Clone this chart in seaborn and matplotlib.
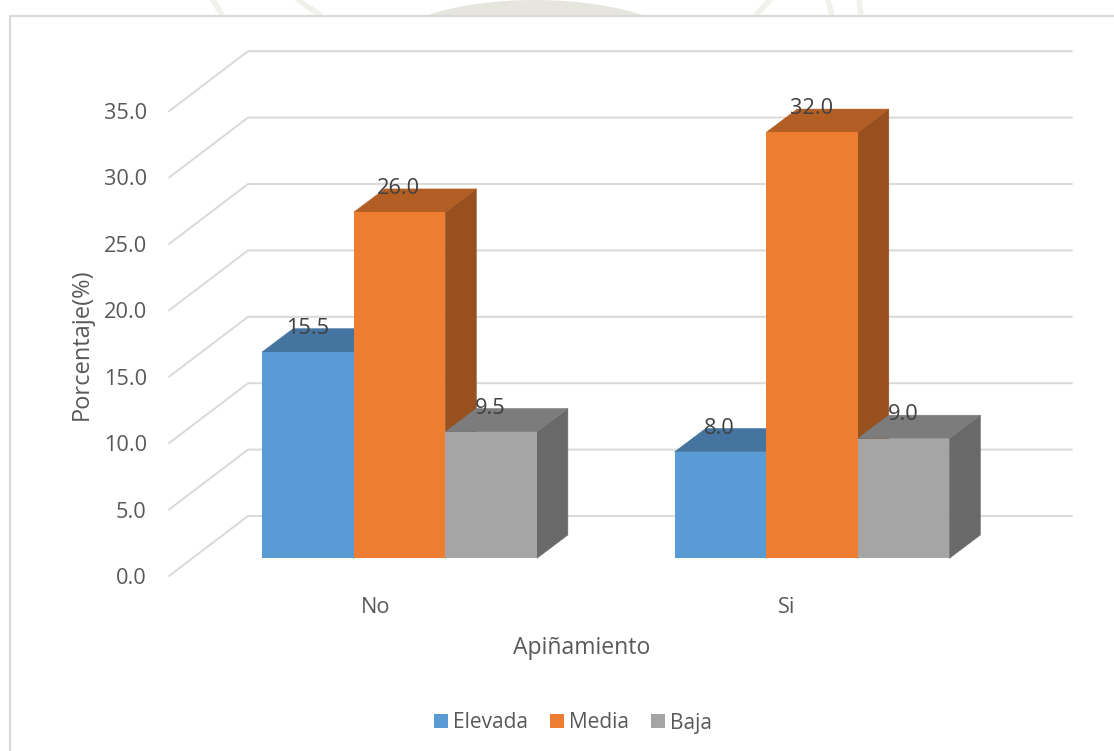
import numpy as np
import pandas as pd
import matplotlib
matplotlib.use("Agg")
import matplotlib.pyplot as plt
from matplotlib.patches import Polygon, Rectangle, Ellipse
from matplotlib.lines import Line2D
from matplotlib.transforms import Affine2D
import seaborn as sns

categories = ["No", "Si"]
series_names = ["Elevada", "Media", "Baja"]
elevada = [15.5, 8.0]
media = [26.0, 32.0]
baja = [9.5, 9.0]
y_ticks = [0, 5, 10, 15, 20, 25, 30, 35]
front_colors = ["#5B9BD5", "#ED7D31", "#A5A5A5"]
top_colors = ["#44749F", "#B25E25", "#7C7C7C"]
side_colors = ["#3A6388", "#97501E", "#696969"]
TEXT = "#595959"
LABEL = "#404040"
GRID = "#D9D9D9"
SEAL = "#E6E6DE"

sns.set_theme(style="white")
plt.rcParams["font.family"] = ["Open Sans", "DejaVu Sans"]

W, H, DPI = 1114, 751, 100
fig = plt.figure(figsize=(W / DPI, H / DPI), dpi=DPI, facecolor="white")
px = Affine2D().scale(1, -1).translate(0, H)  # image pixel coordinates

# faint page watermark showing above the chart
fig.add_artist(Ellipse((535, 62), 330, 124, transform=px, facecolor=SEAL, edgecolor="none", zorder=0))
for xs in ([213, 222], [298, 320], [770, 756], [828, 832], [859, 861]):
    fig.add_artist(Line2D([xs[0], xs[1]], [0, 15], transform=px, color="#F1F1EC", linewidth=4, zorder=0))

# chart frame
fig.add_artist(Rectangle((9.5, 15.5), 1200, 900, transform=px, facecolor="white",
                         edgecolor=GRID, linewidth=1.5, zorder=0.2))

# bar plane: scale chosen so the axes fills the figure
X0, XS, Y0, YS = 399.5, 412.5, 558.3, 13.31
ax = fig.add_axes([0, 0, 1, 1], facecolor="none")
df = pd.DataFrame({
    "Apiñamiento": categories * 3,
    "Nivel": np.repeat(series_names, 2),
    "Porcentaje": elevada + media + baja,
})
sns.barplot(data=df, x="Apiñamiento", y="Porcentaje", hue="Nivel",
            hue_order=series_names, palette=front_colors, width=0.666,
            saturation=1, gap=0, errorbar=None, linewidth=0, ax=ax)
ax.set_xlim(-X0 / XS, (W - X0) / XS)
ax.set_ylim((Y0 - H) / YS, Y0 / YS)
ax.set_axis_off()
ddx, ddy = 31.0 / XS, 23.3 / YS

for i, cont in enumerate(ax.containers):
    for bar, val in zip(cont.patches, cont.datavalues):
        x0, x1, h = bar.get_x(), bar.get_x() + bar.get_width(), bar.get_height()
        z = 3 + i
        bar.set_zorder(z + 0.2)
        ax.add_patch(Polygon([(x1, 0), (x1 + ddx, ddy), (x1 + ddx, h + ddy), (x1, h)],
                             closed=True, facecolor=side_colors[i], edgecolor=side_colors[i],
                             linewidth=0.4, zorder=z))
        ax.add_patch(Polygon([(x0, h), (x0 + ddx, h + ddy), (x1 + ddx, h + ddy), (x1, h)],
                             closed=True, facecolor=top_colors[i], edgecolor=top_colors[i],
                             linewidth=0.4, zorder=z + 0.1))
        ax.annotate(f"{val:.1f}", xy=((x0 + x1) / 2, h), xytext=(-0.5, 17), textcoords="offset points",
                    ha="center", va="center", fontsize=15.7, color=LABEL, zorder=10)

# gridlines: front-left edge, floor depth, back wall
for v in y_ticks:
    yf = 576 - 13.28 * v
    yb = 516 - 13.28 * v
    fig.add_artist(Line2D([169, 248, 1072], [yf, yb, yb], transform=px, color=GRID,
                          linewidth=1.4, zorder=0.5))
ax.set_zorder(2)

# axis ticks and titles on the front plane
ax_t = fig.add_axes([169 / W, (H - 576) / H, (1072 - 169) / W, (576 - 111) / H], facecolor="none")
ax_t.set_zorder(3)
ax_t.set_ylim(0, 35)
ax_t.set_yticks(y_ticks)
ax_t.set_yticklabels([f"{t:.1f}" for t in y_ticks], fontsize=15.7, color=TEXT)
ax_t.set_xlim((169 - 375.7) / 411.0, (1072 - 375.7) / 411.0)
ax_t.set_xticks([0, 1])
ax_t.set_xticklabels(categories, fontsize=15.7, color=TEXT)
ax_t.tick_params(axis="y", length=0, pad=16)
ax_t.tick_params(axis="x", length=0, pad=15)
ax_t.set_xlabel("Apiñamiento", fontsize=16.6, color=TEXT)
ax_t.xaxis.set_label_coords((581.5 - 169) / (1072 - 169), -(648 - 576) / (576 - 111), transform=ax_t.transAxes)
ax_t.xaxis.label.set_va("center")
ax_t.set_ylabel("Porcentaje(%)", fontsize=17, color=TEXT)
ax_t.yaxis.set_label_coords(-(169 - 82) / (1072 - 169), (576 - 344) / (576 - 111), transform=ax_t.transAxes)
ax_t.yaxis.label.set_va("center")
for s in ax_t.spines.values():
    s.set_visible(False)

# legend
sns.move_legend(ax, loc="center", bbox_to_anchor=(573 / W, (H - 723) / H),
                bbox_transform=fig.transFigure, ncol=3, frameon=False, title=None,
                fontsize=15, handlelength=0.67, handleheight=0.67, handletextpad=0.25,
                columnspacing=1.03, labelcolor=TEXT, borderpad=0)

fig.savefig("out.png", dpi=DPI, facecolor="white")
